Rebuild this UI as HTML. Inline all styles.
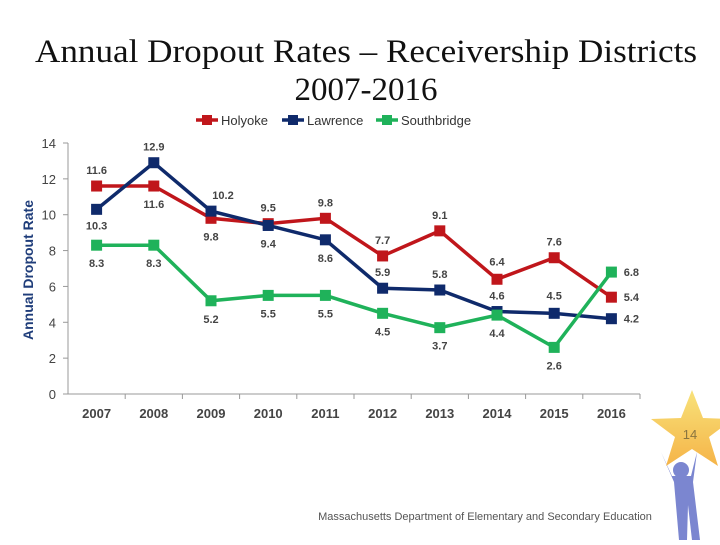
<!DOCTYPE html>
<html><head><meta charset="utf-8"><style>
body{margin:0;width:720px;height:540px;background:#fff;overflow:hidden;font-family:"Liberation Sans",sans-serif}
</style></head><body>
<svg width="720" height="540" viewBox="0 0 720 540">
<text x="366" y="62" text-anchor="middle" font-family="Liberation Serif" font-size="33" textLength="662" lengthAdjust="spacingAndGlyphs" fill="#111">Annual Dropout Rates – Receivership Districts</text>
<text x="366" y="100" text-anchor="middle" font-family="Liberation Serif" font-size="33" fill="#111">2007-2016</text>
<g id="legend"></g>
<g id="chart"></g>
<text x="485" y="520" text-anchor="middle" font-size="11" fill="#555">Massachusetts Department of Elementary and Secondary Education</text>
<g>
<defs><linearGradient id="sg" x1="0" y1="0" x2="0" y2="1"><stop offset="0" stop-color="#f8e27a"/><stop offset="1" stop-color="#f5b448"/></linearGradient></defs>
<g fill="#7b86d0"><circle cx="681" cy="470" r="8"/><path d="M661,452 L674,482 L679,540 L687,540 L688,505 L692,540 L700,540 L693,482 L697,452 L691,476 L672,476 Z"/></g>
<polygon points="692,390 703,418 733,419 709,437 718,466 692,449 666,466 675,437 651,419 681,418" fill="url(#sg)"/>
<text x="690" y="439" text-anchor="middle" font-size="13" fill="#8a7540">14</text>
</g>
</svg>
<script>
const years=["2007","2008","2009","2010","2011","2012","2013","2014","2015","2016"];
const holyoke=[11.6,11.6,9.8,9.5,9.8,7.7,9.1,6.4,7.6,5.4];
const lawrence=[10.3,12.9,10.2,9.4,8.6,5.9,5.8,4.6,4.5,4.2];
const southbridge=[8.3,8.3,5.2,5.5,5.5,4.5,3.7,4.4,2.6,6.8];
const yTicks=[0,2,4,6,8,10,12,14];
const holyokeLabelPos=[[0,-12],[0,22],[0,22],[0,-12],[0,-12],[0,-12],[0,-12],[0,-14],[0,-12],[20,4]];
const lawrenceLabelPos=[[0,20],[0,-12],[12,-12],[0,22],[0,22],[0,-12],[0,-12],[0,-12],[0,-14],[20,4]];
const southLabelPos=[[0,22],[0,22],[0,22],[0,22],[0,22],[0,22],[0,22],[0,22],[0,22],[20,4]];
const NS="http://www.w3.org/2000/svg";
const X0=68,X1=640,Y0=394,Y1=143;
const x=i=>X0+(X1-X0)/years.length*(i+0.5);
const y=v=>Y0-(v/14)*(Y0-Y1);
function mk(tag,attrs,parent,text){const e=document.createElementNS(NS,tag);for(const k in attrs)e.setAttribute(k,attrs[k]);if(text!==undefined)e.textContent=text;parent.appendChild(e);return e;}
const g=document.getElementById('chart');
let e=mk('line',{x1:X0,y1:Y1,x2:X0,y2:Y0,stroke:'#999'},g);


e=mk('line',{x1:X0,y1:Y0,x2:X1,y2:Y0,stroke:'#999'},g);


yTicks.forEach(t=>{
 e=mk('text',{x:X0-12,y:y(t)+5,'text-anchor':'end','font-size':13,fill:'#444'},g,String(t));
 
 
 mk('line',{x1:X0-5,y1:y(t),x2:X0,y2:y(t),stroke:'#999'},g);
});
years.forEach((yr,i)=>{
 e=mk('text',{x:x(i),y:Y0+24,'text-anchor':'middle','font-size':13,'font-weight':'bold',fill:'#444'},g,yr);
 
 
 mk('line',{x1:X0+(X1-X0)/years.length*(i+1),y1:Y0,x2:X0+(X1-X0)/years.length*(i+1),y2:Y0+5,stroke:'#999'},g);
});
e=mk('text',{x:33,y:270,'text-anchor':'middle','font-size':14,'font-weight':'bold',fill:'#1f3d7a',transform:'rotate(-90 33 270)'},g,'Annual Dropout Rate');


const series=[["holyoke",holyoke,"#c0161b",holyokeLabelPos],["lawrence",lawrence,"#0f2a6b",lawrenceLabelPos],["southbridge",southbridge,"#1fb25a",southLabelPos]];
series.forEach(([name,vals,col,lp])=>{
 e=mk('polyline',{points:vals.map((v,i)=>x(i)+','+y(v)).join(' '),fill:'none',stroke:col,'stroke-width':3.5},g);
 
 
 vals.forEach((v,i)=>{
  e=mk('rect',{x:x(i)-5.5,y:y(v)-5.5,width:11,height:11,fill:col},g);
  
  
  e=mk('text',{x:x(i)+lp[i][0],y:y(v)+lp[i][1],'text-anchor':'middle','font-size':11,'font-weight':'bold',fill:'#444'},g,v.toFixed(1));
  
  
 });
});
const lg=document.getElementById('legend');
const legendItems=[["Holyoke","#c0161b",196],["Lawrence","#0f2a6b",282],["Southbridge","#1fb25a",376]];
legendItems.forEach(([n,c,lx])=>{
 mk('line',{x1:lx,y1:120,x2:lx+22,y2:120,stroke:c,'stroke-width':3.5},lg);
 mk('rect',{x:lx+6,y:115,width:10,height:10,fill:c},lg);
 e=mk('text',{x:lx+25,y:125,'font-size':13,fill:'#333'},lg,n);
 
 
});
</script>
</body></html>
